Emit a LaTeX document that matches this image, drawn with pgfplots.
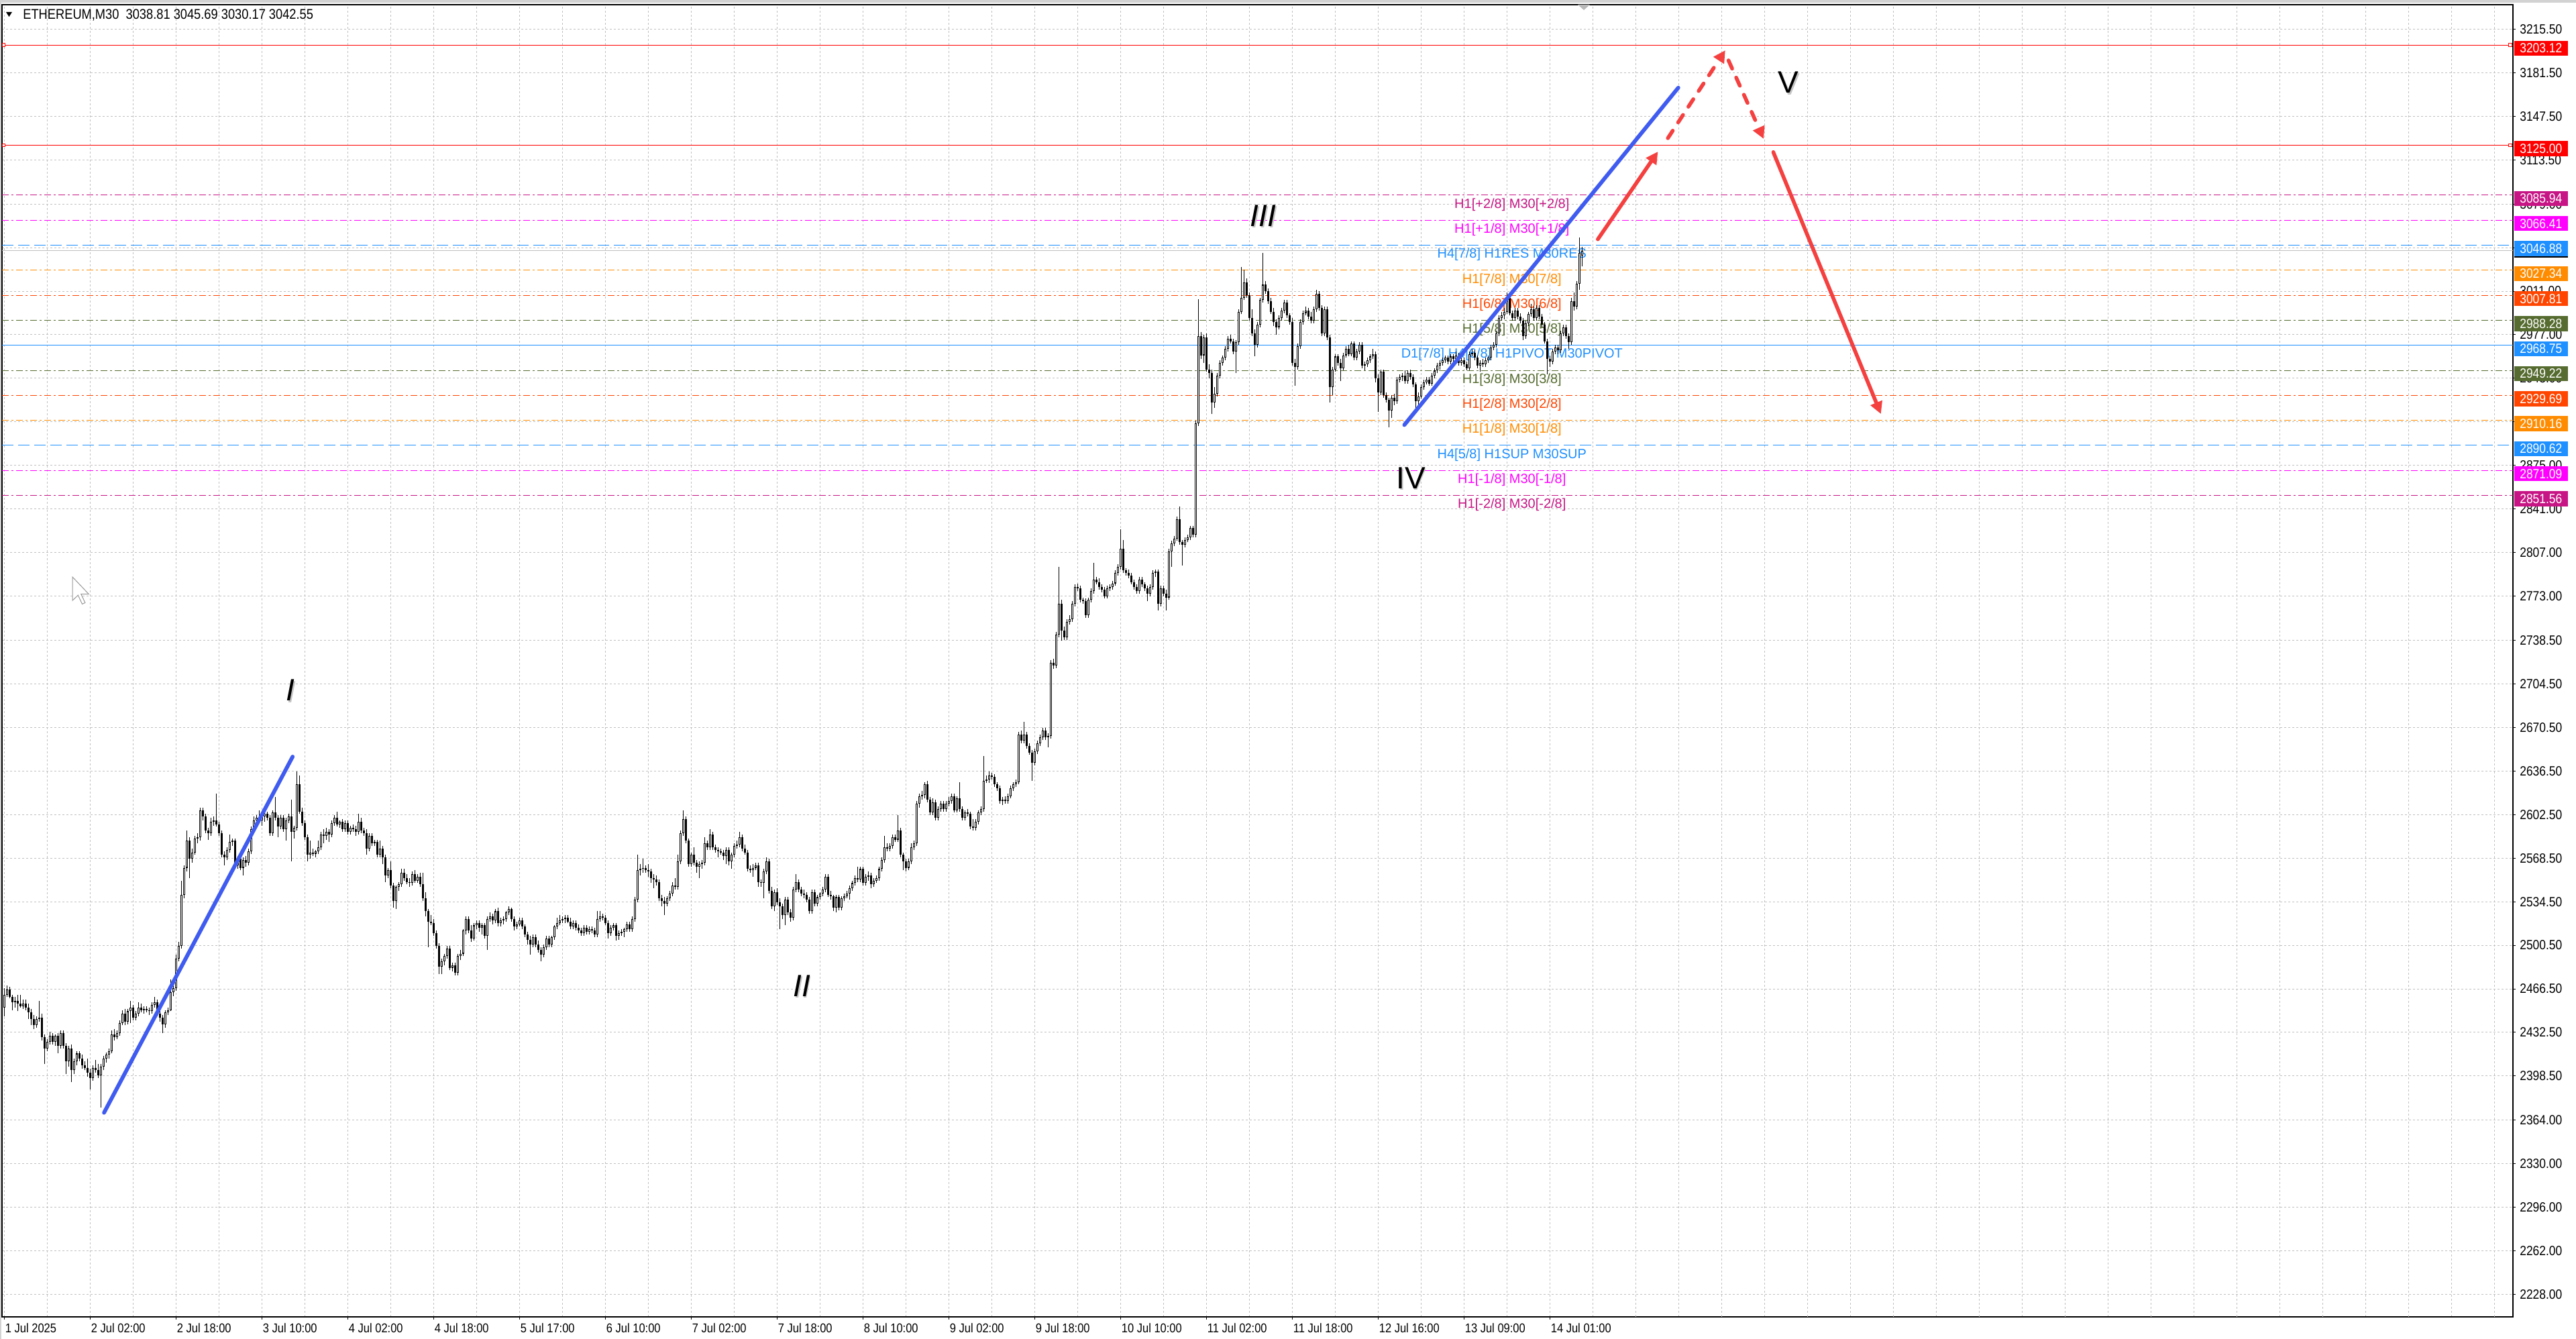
\documentclass[border=0pt]{standalone}
\usepackage{pgfplots}
\pgfplotsset{compat=1.18}
\usepackage{pgfplotstable}
\usepackage{fontspec}
\setmainfont{Liberation Sans}
\newfontfamily\mtfont[FakeStretch=0.87]{Liberation Sans}
\usetikzlibrary{arrows.meta}

\definecolor{mmvr}{RGB}{199,21,133}
\definecolor{mmag}{RGB}{255,0,255}
\definecolor{mdo}{RGB}{255,140,0}
\definecolor{mor}{RGB}{255,69,0}
\definecolor{mdog}{RGB}{85,107,47}
\definecolor{mdb}{RGB}{30,144,255}
\definecolor{gridc}{RGB}{192,192,192}
\definecolor{bluel}{RGB}{64,92,240}
\definecolor{redl}{RGB}{245,64,64}

% ETHEREUM M30 candles, one row per bar: open high low close
\pgfplotstableread{
o h l c
2452 2467 2445 2462
2462 2469 2460 2466
2466 2468 2459 2460
2460 2462 2450 2456
2456 2460 2452 2457
2457 2462 2449 2455
2455 2462 2452 2453
2453 2458 2451 2455
2455 2458 2450 2452
2452 2455 2443 2448
2448 2451 2438 2443
2443 2446 2435 2438
2438 2445 2436 2443
2443 2457 2441 2444
2444 2447 2426 2429
2429 2431 2408 2420
2420 2427 2418 2425
2425 2433 2423 2430
2430 2432 2423 2425
2425 2431 2422 2430
2430 2432 2416 2422
2422 2434 2420 2432
2432 2434 2420 2422
2422 2424 2400 2410
2410 2422 2406 2420
2420 2423 2394 2403
2403 2412 2400 2410
2410 2418 2407 2416
2416 2418 2410 2412
2412 2415 2404 2407
2407 2410 2403 2405
2405 2412 2398 2401
2401 2404 2388 2397
2397 2407 2395 2405
2405 2411 2401 2403
2403 2408 2397 2399
2399 2408 2374 2406
2406 2414 2403 2412
2412 2417 2409 2415
2415 2420 2412 2418
2418 2434 2416 2431
2431 2435 2426 2429
2429 2434 2427 2432
2432 2442 2430 2440
2440 2450 2438 2447
2447 2451 2438 2441
2441 2451 2439 2449
2449 2457 2440 2452
2452 2454 2442 2444
2444 2449 2442 2447
2447 2456 2445 2452
2452 2455 2448 2450
2450 2453 2447 2451
2451 2453 2448 2450
2450 2452 2446 2449
2449 2456 2447 2454
2454 2460 2452 2456
2456 2458 2445 2447
2447 2449 2441 2444
2444 2446 2432 2439
2439 2450 2436 2448
2448 2452 2446 2450
2450 2474 2449 2464
2464 2472 2461 2467
2467 2493 2465 2490
2490 2503 2488 2500
2500 2551 2498 2540
2540 2563 2537 2561
2561 2590 2558 2582
2582 2585 2553 2568
2568 2576 2565 2573
2573 2586 2571 2584
2584 2588 2580 2585
2585 2608 2582 2606
2606 2608 2598 2601
2601 2603 2588 2590
2590 2592 2583 2588
2588 2600 2586 2597
2597 2601 2594 2598
2598 2619 2593 2595
2595 2597 2586 2588
2588 2590 2569 2571
2571 2574 2563 2569
2569 2577 2567 2575
2575 2587 2573 2581
2581 2584 2578 2582
2582 2584 2561 2563
2563 2570 2560 2568
2568 2571 2559 2561
2561 2569 2555 2567
2567 2570 2562 2565
2565 2576 2563 2574
2574 2593 2572 2591
2591 2601 2588 2598
2598 2602 2595 2600
2600 2606 2596 2598
2598 2605 2594 2601
2601 2605 2597 2603
2603 2605 2598 2600
2600 2602 2586 2588
2588 2606 2586 2604
2604 2616 2598 2600
2600 2602 2585 2593
2593 2602 2591 2600
2600 2602 2589 2591
2591 2600 2582 2598
2598 2603 2596 2601
2601 2614 2566 2589
2589 2594 2584 2592
2592 2636 2590 2626
2626 2633 2603 2605
2605 2608 2594 2596
2596 2598 2583 2585
2585 2587 2566 2571
2571 2582 2568 2573
2573 2576 2570 2572
2572 2575 2569 2574
2574 2582 2572 2577
2577 2589 2575 2587
2587 2591 2580 2586
2586 2592 2583 2589
2589 2591 2581 2587
2587 2598 2585 2596
2596 2602 2594 2600
2600 2605 2593 2595
2595 2598 2592 2597
2597 2599 2589 2591
2591 2598 2589 2596
2596 2598 2587 2589
2589 2594 2587 2592
2592 2595 2589 2591
2591 2594 2586 2589
2589 2603 2587 2597
2597 2600 2588 2590
2590 2592 2586 2588
2588 2591 2571 2576
2576 2588 2574 2586
2586 2588 2578 2580
2580 2583 2578 2581
2581 2583 2569 2571
2571 2582 2569 2576
2576 2578 2564 2569
2569 2571 2550 2555
2555 2561 2553 2559
2559 2566 2545 2547
2547 2549 2530 2535
2535 2547 2529 2546
2546 2550 2543 2548
2548 2560 2546 2557
2557 2560 2551 2553
2553 2556 2548 2550
2550 2553 2546 2549
2549 2558 2547 2556
2556 2559 2549 2551
2551 2556 2549 2554
2554 2557 2546 2548
2548 2557 2535 2537
2537 2542 2523 2527
2527 2529 2499 2519
2519 2524 2516 2518
2518 2521 2508 2510
2510 2512 2498 2500
2500 2502 2478 2484
2484 2490 2478 2488
2488 2494 2485 2492
2492 2500 2490 2498
2498 2500 2481 2483
2483 2487 2480 2485
2485 2487 2477 2479
2479 2494 2477 2492
2492 2497 2489 2494
2494 2513 2492 2512
2512 2523 2509 2521
2521 2523 2510 2512
2512 2516 2503 2506
2506 2518 2504 2516
2516 2520 2513 2518
2518 2520 2511 2514
2514 2518 2509 2516
2516 2518 2506 2508
2508 2523 2497 2521
2521 2526 2519 2523
2523 2525 2517 2520
2520 2529 2518 2527
2527 2530 2515 2518
2518 2522 2515 2520
2520 2523 2517 2521
2521 2527 2519 2526
2526 2531 2524 2529
2529 2530 2519 2521
2521 2523 2512 2515
2515 2519 2513 2517
2517 2522 2515 2520
2520 2522 2513 2515
2515 2517 2507 2509
2509 2511 2501 2505
2505 2508 2493 2501
2501 2509 2499 2507
2507 2509 2499 2501
2501 2504 2495 2497
2497 2499 2488 2493
2493 2501 2491 2499
2499 2508 2497 2506
2506 2508 2499 2501
2501 2508 2499 2507
2507 2516 2505 2515
2515 2522 2513 2518
2518 2524 2516 2520
2520 2523 2518 2521
2521 2524 2518 2522
2522 2524 2518 2519
2519 2522 2513 2515
2515 2520 2513 2518
2518 2520 2512 2514
2514 2517 2510 2512
2512 2514 2508 2510
2510 2516 2508 2514
2514 2516 2509 2511
2511 2515 2509 2513
2513 2515 2510 2512
2512 2514 2507 2509
2509 2527 2507 2521
2521 2527 2519 2523
2523 2525 2520 2522
2522 2524 2516 2518
2518 2520 2506 2510
2510 2516 2508 2514
2514 2518 2512 2516
2516 2518 2504 2508
2508 2512 2505 2510
2510 2513 2508 2511
2511 2514 2507 2513
2513 2519 2511 2517
2517 2519 2511 2513
2513 2523 2511 2521
2521 2538 2519 2536
2536 2571 2534 2559
2559 2564 2555 2560
2560 2568 2557 2561
2561 2563 2557 2559
2559 2564 2554 2558
2558 2560 2549 2553
2553 2556 2545 2552
2552 2555 2547 2550
2550 2552 2535 2537
2537 2540 2531 2535
2535 2538 2524 2533
2533 2539 2531 2537
2537 2543 2535 2541
2541 2550 2539 2547
2547 2553 2544 2546
2546 2571 2544 2566
2566 2590 2564 2588
2588 2606 2586 2599
2599 2601 2580 2582
2582 2584 2562 2564
2564 2573 2562 2571
2571 2577 2563 2565
2565 2567 2557 2562
2562 2566 2553 2564
2564 2567 2560 2565
2565 2585 2563 2580
2580 2582 2575 2577
2577 2591 2575 2587
2587 2589 2575 2577
2577 2579 2573 2575
2575 2577 2569 2574
2574 2576 2571 2573
2573 2575 2567 2570
2570 2577 2564 2575
2575 2577 2563 2566
2566 2573 2560 2571
2571 2580 2569 2578
2578 2582 2576 2579
2579 2589 2577 2585
2585 2587 2574 2576
2576 2579 2571 2573
2573 2575 2558 2560
2560 2563 2557 2559
2559 2564 2554 2561
2561 2565 2559 2563
2563 2565 2546 2550
2550 2552 2546 2549
2549 2560 2537 2558
2558 2569 2556 2566
2566 2568 2541 2543
2543 2546 2529 2531
2531 2544 2527 2542
2542 2545 2532 2534
2534 2537 2513 2531
2531 2533 2521 2524
2524 2538 2516 2536
2536 2538 2524 2526
2526 2529 2519 2522
2522 2546 2520 2544
2544 2556 2542 2550
2550 2552 2542 2544
2544 2546 2539 2541
2541 2544 2537 2540
2540 2542 2534 2536
2536 2538 2525 2527
2527 2544 2525 2542
2542 2544 2531 2533
2533 2540 2531 2538
2538 2542 2536 2541
2541 2546 2539 2544
2544 2556 2542 2554
2554 2556 2538 2540
2540 2543 2536 2539
2539 2540 2527 2530
2530 2540 2526 2538
2538 2540 2528 2530
2530 2539 2528 2537
2537 2541 2535 2539
2539 2543 2537 2541
2541 2547 2536 2545
2545 2551 2543 2549
2549 2555 2547 2553
2553 2562 2550 2552
2552 2562 2550 2560
2560 2562 2547 2549
2549 2556 2547 2554
2554 2558 2551 2555
2555 2557 2545 2548
2548 2553 2546 2551
2551 2555 2549 2553
2553 2562 2551 2560
2560 2569 2558 2567
2567 2586 2565 2577
2577 2580 2574 2576
2576 2580 2574 2578
2578 2587 2576 2585
2585 2587 2581 2583
2583 2602 2581 2590
2590 2592 2569 2571
2571 2573 2559 2566
2566 2568 2558 2561
2561 2568 2559 2566
2566 2580 2564 2577
2577 2582 2575 2580
2580 2613 2578 2611
2611 2619 2608 2617
2617 2621 2614 2618
2618 2628 2615 2626
2626 2629 2612 2614
2614 2616 2602 2604
2604 2615 2602 2612
2612 2614 2598 2600
2600 2609 2598 2607
2607 2613 2605 2611
2611 2613 2605 2607
2607 2613 2605 2611
2611 2616 2609 2613
2613 2619 2611 2617
2617 2619 2604 2606
2606 2617 2604 2615
2615 2628 2605 2607
2607 2609 2598 2600
2600 2606 2598 2604
2604 2607 2601 2603
2603 2605 2591 2593
2593 2599 2590 2592
2592 2599 2590 2597
2597 2606 2595 2604
2604 2609 2602 2607
2607 2648 2605 2629
2629 2633 2627 2630
2630 2636 2627 2633
2633 2635 2630 2632
2632 2634 2624 2626
2626 2628 2621 2623
2623 2625 2611 2613
2613 2616 2610 2614
2614 2617 2611 2613
2613 2619 2611 2617
2617 2625 2615 2623
2623 2628 2621 2626
2626 2630 2624 2628
2628 2667 2626 2665
2665 2668 2658 2660
2660 2675 2658 2665
2665 2667 2654 2656
2656 2658 2649 2651
2651 2653 2629 2643
2643 2654 2641 2652
2652 2660 2650 2658
2658 2665 2656 2663
2663 2670 2661 2668
2668 2670 2661 2663
2663 2666 2655 2664
2664 2723 2662 2721
2721 2724 2716 2719
2719 2745 2717 2743
2743 2796 2741 2767
2767 2770 2738 2746
2746 2749 2739 2741
2741 2755 2739 2753
2753 2758 2751 2755
2755 2769 2753 2767
2767 2782 2765 2780
2780 2783 2777 2779
2779 2781 2768 2770
2770 2772 2767 2769
2769 2771 2756 2758
2758 2772 2756 2770
2770 2779 2768 2777
2777 2799 2775 2786
2786 2788 2782 2784
2784 2787 2778 2780
2780 2782 2776 2778
2778 2780 2771 2773
2773 2781 2771 2779
2779 2782 2777 2780
2780 2785 2778 2783
2783 2793 2781 2791
2791 2798 2789 2796
2796 2825 2794 2810
2810 2817 2791 2793
2793 2795 2789 2791
2791 2794 2787 2789
2789 2791 2782 2784
2784 2786 2778 2780
2780 2782 2775 2777
2777 2788 2775 2786
2786 2788 2780 2782
2782 2784 2777 2779
2779 2781 2769 2775
2775 2782 2773 2780
2780 2793 2778 2791
2791 2794 2788 2792
2792 2794 2762 2767
2767 2781 2765 2779
2779 2781 2773 2775
2775 2778 2762 2772
2772 2810 2770 2808
2808 2816 2796 2814
2814 2820 2812 2818
2818 2835 2816 2833
2833 2843 2813 2815
2815 2817 2797 2813
2813 2819 2811 2817
2817 2821 2815 2819
2819 2828 2817 2826
2826 2828 2819 2821
2821 2910 2819 2908
2908 3005 2906 2976
2976 2979 2958 2961
2961 2977 2955 2975
2975 2978 2948 2950
2950 2954 2943 2947
2947 2950 2915 2924
2924 2936 2920 2931
2931 2947 2929 2945
2945 2957 2943 2955
2955 2961 2953 2959
2959 2968 2957 2966
2966 2976 2964 2974
2974 2977 2970 2972
2972 2974 2962 2964
2964 2973 2947 2971
2971 2997 2969 2995
2995 3030 2993 3006
3006 3028 3004 3018
3018 3021 3006 3008
3008 3010 2988 2990
2990 2997 2976 2978
2978 2981 2960 2969
2969 2987 2967 2985
2985 3006 2983 3004
3004 3041 3002 3016
3016 3019 3009 3011
3011 3013 3001 3003
3003 3006 2993 2995
2995 2998 2984 2987
2987 2989 2977 2983
2983 2992 2981 2990
2990 2998 2988 2996
2996 3004 2994 3002
3002 3004 2990 2992
2992 2994 2985 2987
2987 2990 2953 2955
2955 2958 2937 2952
2952 2970 2950 2968
2968 2989 2966 2987
2987 2996 2985 2994
2994 2999 2992 2996
2996 2998 2989 2991
2991 2995 2986 2988
2988 2999 2986 2997
2997 3012 2995 3009
3009 3011 2996 2998
2998 3000 2976 2978
2978 2999 2976 2997
2997 2999 2973 2975
2975 2977 2924 2936
2936 2952 2930 2950
2950 2962 2948 2960
2960 2962 2953 2955
2955 2958 2941 2951
2951 2963 2949 2961
2961 2968 2959 2966
2966 2969 2960 2962
2962 2972 2960 2970
2970 2972 2957 2959
2959 2966 2957 2964
2964 2971 2962 2969
2969 2971 2951 2953
2953 2956 2949 2954
2954 2959 2952 2957
2957 2962 2955 2960
2960 2966 2958 2962
2962 2964 2940 2943
2943 2946 2917 2932
2932 2950 2930 2948
2948 2950 2928 2930
2930 2932 2924 2926
2926 2928 2905 2918
2918 2930 2912 2928
2928 2931 2922 2925
2925 2944 2923 2942
2942 2946 2940 2944
2944 2947 2941 2945
2945 2949 2939 2941
2941 2949 2939 2947
2947 2950 2942 2944
2944 2946 2936 2938
2938 2940 2920 2925
2925 2932 2921 2929
2929 2938 2927 2936
2936 2942 2934 2940
2940 2944 2938 2942
2942 2944 2937 2939
2939 2947 2937 2945
2945 2951 2943 2949
2949 2955 2947 2953
2953 2957 2950 2955
2955 2959 2953 2957
2957 2961 2955 2959
2959 2961 2954 2956
2956 2962 2954 2960
2960 2962 2956 2958
2958 2964 2956 2961
2961 2963 2953 2955
2955 2959 2953 2957
2957 2959 2952 2954
2954 2956 2949 2951
2951 2964 2949 2962
2962 2966 2960 2963
2963 2965 2957 2959
2959 2961 2951 2953
2953 2957 2948 2955
2955 2958 2952 2954
2954 2959 2952 2957
2957 2961 2955 2959
2959 2969 2957 2967
2967 2971 2965 2969
2969 2980 2967 2978
2978 2992 2976 2990
2990 2995 2988 2992
2992 2998 2989 2995
2995 3010 2993 3006
3006 3008 2992 2994
2994 2996 2988 2990
2990 2998 2988 2996
2996 2998 2989 2991
2991 2994 2986 2988
2988 2990 2973 2976
2976 2988 2974 2986
2986 2995 2984 2993
2993 3001 2991 2997
2997 2999 2988 2990
2990 3000 2988 2998
2998 3000 2989 2991
2991 2993 2983 2985
2985 2987 2970 2972
2972 2974 2946 2958
2958 2961 2952 2956
2956 2966 2954 2964
2964 2969 2962 2967
2967 2969 2962 2965
2965 2980 2963 2978
2978 2985 2976 2983
2983 2985 2974 2976
2976 2978 2966 2971
2971 3006 2969 3003
3003 3010 2996 2999
2999 3019 2997 3017
3017 3053 3012 3041
3038.81 3045.69 3030.17 3042.55
}\candles

\newcommand{\level}[2]{\addplot[#1, line width=0.5pt] coordinates {(-0.81,#2) (934.94,#2)};}
\newcommand{\wave}[4]{%
  \node[font=\fontsize{23}{23}\selectfont#4, text=gray!45, inner sep=0pt] at (axis cs:#1,#2) [xshift=0.9pt, yshift=-1.4pt] {#3};
  \node[font=\fontsize{23}{23}\selectfont#4, text=black, inner sep=0pt] at (axis cs:#1,#2) {#3};}

\begin{document}
\begin{tikzpicture}
\useasboundingbox (0,0) rectangle (1920pt,998pt);
\fill[white] (0,0) rectangle (1920pt,998pt);
\fill[gray!35] (0,996pt) rectangle (1920pt,998pt);
\fill[gray!35] (0,0) rectangle (0.8pt,998pt);
\begin{axis}[
    at={(1.5pt,16.5pt)}, anchor=south west,
    scale only axis, width=1871.5pt, height=978pt,
    xmin=-0.81, xmax=934.94, ymin=2210.5, ymax=3234.6,
    clip=false,
    axis line style={black, line width=0.6pt},
    tick style={black, line width=0.5pt},
    tick align=outside, major tick length=2pt, minor tick length=0pt,
    xtick pos=left, ytick pos=right, yticklabel pos=right,
    xtick={0,32,...,576},
    xticklabels={1 Jul 2025,2 Jul 02:00,2 Jul 18:00,3 Jul 10:00,4 Jul 02:00,4 Jul 18:00,5 Jul 17:00,6 Jul 10:00,7 Jul 02:00,7 Jul 18:00,8 Jul 10:00,9 Jul 02:00,9 Jul 18:00,10 Jul 10:00,11 Jul 02:00,11 Jul 18:00,12 Jul 16:00,13 Jul 09:00,14 Jul 01:00},
    minor xtick={16,48,...,912},
    extra x ticks={608,640,...,928}, extra x tick labels={},
    extra x tick style={major tick length=0pt, grid=major},
    ytick={2228,2262,2296,2330,2364,2398.5,2432.5,2466.5,2500.5,2534.5,2568.5,2602.5,2636.5,2670.5,2704.5,2738.5,2773,2807,2841,2875,2909,2943,2977,3011,3045,3079,3113.5,3147.5,3181.5,3215.5},
    yticklabels={2228.00,2262.00,2296.00,2330.00,2364.00,2398.50,2432.50,2466.50,2500.50,2534.50,2568.50,2602.50,2636.50,2670.50,2704.50,2738.50,2773.00,2807.00,2841.00,2875.00,2909.00,2943.00,2977.00,3011.00,3045.00,3079.00,3113.50,3147.50,3181.50,3215.50},
    grid=both,
    major grid style={gridc, line width=0.5pt, dash pattern=on 1.5pt off 1.5pt},
    minor grid style={gridc, line width=0.5pt, dash pattern=on 1.5pt off 1.5pt},
    xticklabel style={anchor=north west, inner sep=0pt, xshift=0.6pt, yshift=-2.5pt, font=\mtfont\fontsize{9.5}{11}\selectfont},
    yticklabel style={anchor=west, inner sep=0pt, xshift=3pt, font=\mtfont\fontsize{10}{12}\selectfont},
]

% levels
\level{red}{3203.12}
\level{red}{3125.00}
\level{mmvr, dash pattern=on 5pt off 2pt on 1.5pt off 2pt}{3085.94}
\level{mmag, dash pattern=on 5pt off 2pt on 1.5pt off 2pt}{3066.41}
\level{mdb, dash pattern=on 8.5pt off 3.5pt}{3046.88}
\level{gridc}{3042.55}
\level{mdo, dash pattern=on 5pt off 2pt on 1.5pt off 2pt}{3027.34}
\level{mor, dash pattern=on 5pt off 2pt on 1.5pt off 2pt}{3007.81}
\level{mdog, dash pattern=on 5pt off 2pt on 1.5pt off 2pt}{2988.28}
\level{mdb}{2968.75}
\level{mdog, dash pattern=on 5pt off 2pt on 1.5pt off 2pt}{2949.22}
\level{mor, dash pattern=on 5pt off 2pt on 1.5pt off 2pt}{2929.69}
\level{mdo, dash pattern=on 5pt off 2pt on 1.5pt off 2pt}{2910.16}
\level{mdb, dash pattern=on 8.5pt off 3.5pt}{2890.62}
\level{mmag, dash pattern=on 5pt off 2pt on 1.5pt off 2pt}{2871.09}
\level{mmvr, dash pattern=on 5pt off 2pt on 1.5pt off 2pt}{2851.56}
\addplot[only marks, mark=square*, mark size=1.2pt, mark options={fill=white, draw=red, line width=0.4pt}]
    coordinates {(-0.2,3203.12) (-0.2,3125.00) (933.9,3203.12) (933.9,3125.00)};

% level texts
\begin{scope}[every node/.style={anchor=base, yshift=-9.6pt, inner sep=0pt, font=\fontsize{10}{12}\selectfont}]
\node[text=mmvr] at (axis cs:561.9,3085.94) {H1[+2/8] M30[+2/8]};
\node[text=mmag] at (axis cs:561.9,3066.41) {H1[+1/8] M30[+1/8]};
\node[text=mdb]  at (axis cs:561.9,3046.88) {H4[7/8] H1RES M30RES};
\node[text=mdo]  at (axis cs:561.9,3027.34) {H1[7/8] M30[7/8]};
\node[text=mor]  at (axis cs:561.9,3007.81) {H1[6/8] M30[6/8]};
\node[text=mdog] at (axis cs:561.9,2988.28) {H1[5/8] M30[5/8]};
\node[text=mdb]  at (axis cs:561.9,2968.75) {D1[7/8] H4[6/8] H1PIVOT M30PIVOT};
\node[text=mdog] at (axis cs:561.9,2949.22) {H1[3/8] M30[3/8]};
\node[text=mor]  at (axis cs:561.9,2929.69) {H1[2/8] M30[2/8]};
\node[text=mdo]  at (axis cs:561.9,2910.16) {H1[1/8] M30[1/8]};
\node[text=mdb]  at (axis cs:561.9,2890.62) {H4[5/8] H1SUP M30SUP};
\node[text=mmag] at (axis cs:561.9,2871.09) {H1[-1/8] M30[-1/8]};
\node[text=mmvr] at (axis cs:561.9,2851.56) {H1[-2/8] M30[-2/8]};
\end{scope}

% candles: wicks, bodies, white interior of rising bars
\addplot[black, line width=0.5pt, quiver={u=0, v=\thisrow{h}-\thisrow{l}}]
    table[x expr=\coordindex, y=l] {\candles};
\addplot[black, line width=1.5pt, quiver={u=0, v=\thisrow{c}-\thisrow{o}}]
    table[x expr=\coordindex, y=o] {\candles};
\addplot[white, line width=0.5pt, quiver={u=0, v={max(\thisrow{c}-\thisrow{o}-1.1,0)}}]
    table[x expr=\coordindex, y expr=\thisrow{o}+0.55] {\candles};

% trend lines and projection arrows
\addplot[bluel, line width=2.9pt, line cap=round] coordinates {(37.2,2369.8) (107.5,2647.7)};
\addplot[bluel, line width=2.9pt, line cap=round] coordinates {(521.8,2906.6) (623.9,3169.8)};
\addplot[redl, line width=2.8pt, line cap=round, -{Triangle[length=9pt,width=9pt]}]
    coordinates {(593.9,3051.5) (616.3,3119.9)};
\addplot[redl, line width=2.8pt, line cap=round, dash pattern=on 6.7pt off 7.3pt, -{Triangle[length=9pt,width=9pt]}]
    coordinates {(620.0,3130.4) (641.4,3199.0)};
\addplot[redl, line width=2.8pt, line cap=round, dash pattern=on 6.7pt off 7.3pt, -{Triangle[length=9pt,width=9pt]}]
    coordinates {(642.6,3191.1) (655.7,3129.9)};
\addplot[redl, line width=2.8pt, line cap=round, -{Triangle[length=9pt,width=9pt]}]
    coordinates {(659.3,3119.5) (699.4,2915.2)};

% wave counts
\wave{106.7}{2699.5}{I}{\itshape}
\wave{297.2}{2469}{II}{\itshape}
\wave{469.2}{3070}{III}{\itshape}
\wave{524.2}{2865.3}{IV}{}
\wave{665}{3173.8}{V}{}

% anchors for the price labels on the right
\coordinate (p1) at (axis cs:934.94,3203.12);
\coordinate (p2) at (axis cs:934.94,3125.00);
\coordinate (p3) at (axis cs:934.94,3085.94);
\coordinate (p4) at (axis cs:934.94,3066.41);
\coordinate (pb) at (axis cs:934.94,3042.55);
\coordinate (p5) at (axis cs:934.94,3046.88);
\coordinate (p6) at (axis cs:934.94,3027.34);
\coordinate (p7) at (axis cs:934.94,3007.81);
\coordinate (p8) at (axis cs:934.94,2988.28);
\coordinate (p9) at (axis cs:934.94,2968.75);
\coordinate (p10) at (axis cs:934.94,2949.22);
\coordinate (p11) at (axis cs:934.94,2929.69);
\coordinate (p12) at (axis cs:934.94,2910.16);
\coordinate (p13) at (axis cs:934.94,2890.62);
\coordinate (p14) at (axis cs:934.94,2871.09);
\coordinate (p15) at (axis cs:934.94,2851.56);
\end{axis}

\tikzset{pbox/.style={anchor=west, xshift=1pt, yshift=-2.5pt, minimum height=11.2pt,
    text width=32pt, inner xsep=4pt, inner ysep=0pt, align=left, text=white,
    font=\mtfont\fontsize{10}{11}\selectfont}}
\node[pbox, fill=red] at (p1) {3203.12};
\node[pbox, fill=red] at (p2) {3125.00};
\node[pbox, fill=mmvr] at (p3) {3085.94};
\node[pbox, fill=mmag] at (p4) {3066.41};
\node[pbox, fill=black, yshift=2.9pt] at (pb) {3042.55};
\node[pbox, fill=mdb] at (p5) {3046.88};
\node[pbox, fill=mdo] at (p6) {3027.34};
\node[pbox, fill=mor] at (p7) {3007.81};
\node[pbox, fill=mdog] at (p8) {2988.28};
\node[pbox, fill=mdb] at (p9) {2968.75};
\node[pbox, fill=mdog] at (p10) {2949.22};
\node[pbox, fill=mor] at (p11) {2929.69};
\node[pbox, fill=mdo] at (p12) {2910.16};
\node[pbox, fill=mdb] at (p13) {2890.62};
\node[pbox, fill=mmag] at (p14) {2871.09};
\node[pbox, fill=mmvr] at (p15) {2851.56};

% title, shift marker and mouse pointer
\fill (4.5pt,989pt) -- (9pt,989pt) -- (6.75pt,985.5pt) -- cycle;
\node[anchor=base west, inner sep=0pt, font=\mtfont\fontsize{10.5}{12}\selectfont]
    at (17pt,983.9pt) {ETHEREUM,M30\ \ 3038.81 3045.69 3030.17 3042.55};
\fill[gray!55] (1176pt,994.5pt) -- (1185pt,994.5pt) -- (1180.5pt,990.5pt) -- cycle;
\begin{scope}[shift={(54pt,568pt)}, x=1.1pt, y=1.1pt]
\filldraw[fill=white, draw=gray!80, line width=0.5pt]
    (0,0) -- (0,-16) -- (3.8,-12.4) -- (6.6,-18.4) -- (8.6,-17.5) -- (5.8,-11.6) -- (11,-11.6) -- cycle;
\end{scope}
\end{tikzpicture}
\end{document}
